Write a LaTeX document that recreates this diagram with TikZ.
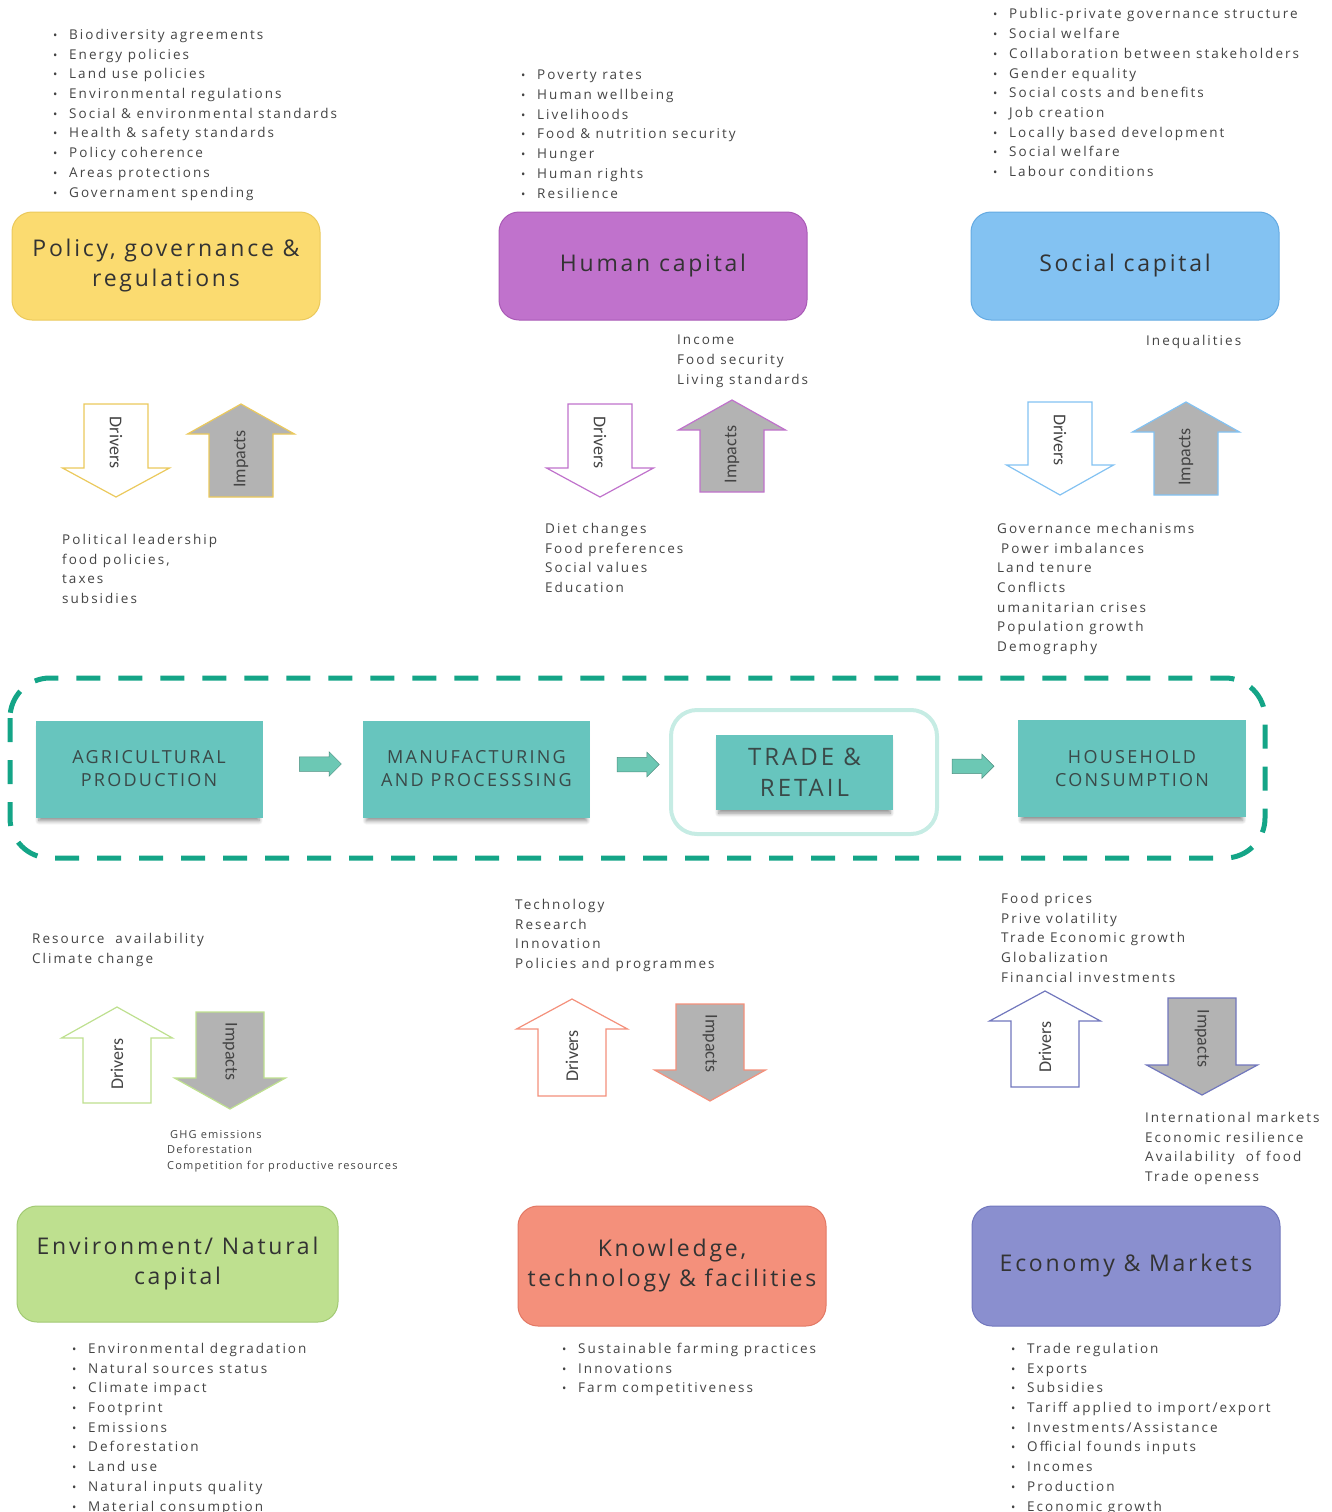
\documentclass[tikz,border=0pt]{standalone}
\usepackage{fontspec}
\setmainfont{Open Sans}[LetterSpace=15]
\newfontfamily\titlefont{Open Sans}[LetterSpace=12]
\newfontfamily\stagefont{Open Sans}[LetterSpace=12.5]
\newfontfamily\notefont{Open Sans}[LetterSpace=11]
\newfontfamily\arrowfont{Carlito}
\usetikzlibrary{positioning,calc,shapes.arrows,shadows.blur}

\definecolor{txtgray}{HTML}{444444}
\definecolor{titlegray}{HTML}{333333}
\definecolor{polyfill}{HTML}{FBDB70}
\definecolor{polydraw}{HTML}{EBC95C}
\definecolor{humfill}{HTML}{C072CC}
\definecolor{humdraw}{HTML}{A95AB6}
\definecolor{socfill}{HTML}{83C2F2}
\definecolor{socdraw}{HTML}{64AAE2}
\definecolor{envfill}{HTML}{BEE08F}
\definecolor{envdraw}{HTML}{A2C974}
\definecolor{knofill}{HTML}{F4907B}
\definecolor{knodraw}{HTML}{E27864}
\definecolor{ecofill}{HTML}{8A8FCF}
\definecolor{ecodraw}{HTML}{7177BD}
\definecolor{impgray}{HTML}{B3B3B3}
\definecolor{stagefill}{HTML}{67C5BE}
\definecolor{stagetxt}{HTML}{3A4948}
\definecolor{chaindash}{HTML}{14A587}
\definecolor{tradering}{HTML}{C6ECE4}
\definecolor{flowfill}{HTML}{6CC8B4}
\definecolor{flowdraw}{HTML}{4E8F80}

\newcommand{\bitem}{\makebox[16pt][l]{\scalebox{0.85}{\textbullet}}}
% shaft and head half widths of the big arrows
\def\sw{32}
\def\hw{53.5}
% #1 label name, #2 style, #3 centre x, #4 shaft end, #5 head base, #6 tip, #7 text, #8 angle
\newcommand{\bigarrow}[8]{%
  \draw[#2] (#3-\sw,#4) -- (#3-\sw,#5) -- (#3-\hw,#5) -- (#3,#6) -- (#3+\hw,#5)
    -- (#3+\sw,#5) -- (#3+\sw,#4) -- cycle;
  \node[arrowlbl, rotate=#8] (#1) at (#3,{(#4+#5)/2+0.07*(#6-#4)}) {#7};
}

\begin{document}
\begin{tikzpicture}[x=1pt,y=-1pt,
  capbox/.style={draw, rounded corners=20, line width=1pt, minimum width=308,
    minimum height=108, align=center, font=\titlefont\fontsize{23}{30}\selectfont, text=titlegray},
  listtxt/.style={anchor=north west, inner sep=0, align=left,
    font=\fontsize{13.5}{19.7}\selectfont, text=txtgray},
  stagebox/.style={fill=stagefill, minimum width=227, minimum height=97, align=center,
    font=\stagefont\fontsize{18}{23}\selectfont, text=stagetxt,
    blur shadow={shadow xshift=0pt, shadow yshift=-5pt, shadow scale=0.97,
      shadow blur steps=8, shadow blur radius=4pt, shadow opacity=45}},
  flowarrow/.style={single arrow, draw=flowdraw, fill=flowfill, line width=0.5pt,
    minimum height=42, inner xsep=0, inner ysep=7, single arrow head extend=5},
  drv/.style={draw=#1, fill=white, line width=1.2pt},
  imp/.style={draw=#1, fill=impgray, line width=1.2pt},
  arrowlbl/.style={font=\arrowfont\fontsize{18}{18}\selectfont, text=txtgray}]
\useasboundingbox (0,0) rectangle (1332,1512);

% capitals, top row
\node[capbox, fill=polyfill, draw=polydraw] (policy) at (166,266) {Policy, governance \&\\regulations};
\node[capbox, fill=humfill, draw=humdraw] (human) at (653,266) {Human capital};
\node[capbox, fill=socfill, draw=socdraw] (social) at (1125,266) {Social capital};

\node[listtxt] (policylist) at (53,29) {\bitem Biodiversity agreements\\ \bitem Energy policies\\
  \bitem Land use policies\\ \bitem Environmental regulations\\ \bitem Social \& environmental standards\\
  \bitem Health \& safety standards\\ \bitem Policy coherence\\ \bitem Areas protections\\
  \bitem Governament spending};
\node[listtxt] (humanlist) at (521,70) {\bitem Poverty rates\\ \bitem Human wellbeing\\
  \bitem Livelihoods\\ \bitem Food \& nutrition security\\ \bitem Hunger\\ \bitem Human rights\\
  \bitem Resilience};
\node[listtxt] (sociallist) at (993,8.5) {\bitem Public-private governance structure\\
  \bitem Social welfare\\ \bitem Collaboration between stakeholders\\ \bitem Gender equality\\
  \bitem Social costs and benefits\\ \bitem Job creation\\ \bitem Locally based development\\
  \bitem Social welfare\\ \bitem Labour conditions};

% drivers and impacts, top row
\bigarrow{policydrv}{drv=polydraw}{116}{404}{468}{497}{Drivers}{-90}
\bigarrow{policyimp}{imp=polydraw}{241}{497}{434}{404}{Impacts}{90}
\bigarrow{humandrv}{drv=humfill}{600}{404}{468}{497}{Drivers}{-90}
\bigarrow{humanimp}{imp=humfill}{732}{492}{430}{400}{Impacts}{90}
\bigarrow{socialdrv}{drv=socfill}{1060}{402}{465}{495}{Drivers}{-90}
\bigarrow{socialimp}{imp=socfill}{1186}{495}{432}{402}{Impacts}{90}

\node[listtxt] (humanout) at (677,335) {Income\\Food security\\Living standards};
\node[listtxt] (socialout) at (1146,335) {Inequalities};
\node[listtxt] (policyin) at (62,534) {Political leadership\\food policies,\\taxes\\subsidies};
\node[listtxt] (humanin) at (545,523) {Diet changes\\Food preferences\\Social values\\Education};
\node[listtxt] (socialin) at (997,523) {Governance mechanisms\\\hspace{4pt}Power imbalances\\
  Land tenure\\Conflicts\\umanitarian crises\\Population growth\\Demography};

% food chain
\draw[chaindash, line width=5pt, dash pattern=on 24pt off 18pt, rounded corners=40]
  (10,678) rectangle (1265,858);
\node[draw=tradering, line width=4pt, rounded corners=26, minimum width=266,
  minimum height=124] (tradering) at (804,772) {};
\node[stagebox] (agri) at (149,769) {AGRICULTURAL\\PRODUCTION};
\node[stagebox] (manu) at (476.5,769) {MANUFACTURING\\AND PROCESSSING};
\node[stagebox, minimum width=177, minimum height=75, font=\stagefont\fontsize{24}{31}\selectfont]
  (trade) at (804.5,772) {TRADE \&\\RETAIL};
\node[stagebox, minimum width=228] (house) at (1132,768.5) {HOUSEHOLD\\CONSUMPTION};
\node[flowarrow] (flow1) at ($(agri.east)!0.5!(manu.west)+(4,-5)$) {};
\node[flowarrow] (flow2) at ($(manu.east)!0.5!(tradering.west)+(5,-6)$) {};
\node[flowarrow] (flow3) at ($(tradering.east)!0.5!(house.west)+(-9,-4)$) {};

% drivers and impacts, bottom row
\def\sw{34}
\def\hw{55.5}
\node[listtxt] (envin) at (32,933) {Resource\ \ availability\\Climate change};
\node[listtxt] (knoin) at (515,899) {Technology\\Research\\Innovation\\Policies and programmes};
\node[listtxt] (ecoin) at (1001,893) {Food prices\\Prive volatility\\Trade Economic growth\\
  Globalization\\Financial investments};
\bigarrow{envdrv}{drv=envfill}{117}{1103}{1038}{1007}{Drivers}{90}
\bigarrow{envimp}{imp=envfill}{230}{1012}{1078}{1109}{Impacts}{-90}
\bigarrow{knodrv}{drv=knofill}{572}{1096}{1029}{999}{Drivers}{90}
\bigarrow{knoimp}{imp=knofill}{710}{1004}{1070}{1101}{Impacts}{-90}
\bigarrow{ecodrv}{drv=ecodraw}{1045}{1087}{1021}{991}{Drivers}{90}
\bigarrow{ecoimp}{imp=ecodraw}{1202}{998}{1065}{1095}{Impacts}{-90}
\node[listtxt, font=\notefont\fontsize{11}{15.5}\selectfont] (envout) at (167,1130)
  {\hspace{3pt}GHG emissions\\Deforestation\\Competition for productive resources};
\node[listtxt] (ecoout) at (1145,1112) {International markets\\Economic resilience\\
  Availability\ \ of food\\Trade openess};

% capitals, bottom row
\node[capbox, fill=envfill, draw=envdraw, minimum width=321, minimum height=116]
  (env) at (177.5,1264) {Environment/ Natural\\capital};
\node[capbox, fill=knofill, draw=knodraw, minimum height=120]
  (know) at (672,1266) {Knowledge,\\technology \& facilities};
\node[capbox, fill=ecofill, draw=ecodraw, minimum height=120]
  (econ) at (1126,1266) {Economy \& Markets};

\node[listtxt] (envlist) at (72,1343) {\bitem Environmental degradation\\
  \bitem Natural sources status\\ \bitem Climate impact\\ \bitem Footprint\\ \bitem Emissions\\
  \bitem Deforestation\\ \bitem Land use\\ \bitem Natural inputs quality\\
  \bitem Material consumption};
\node[listtxt] (knolist) at (562,1343) {\bitem Sustainable farming practices\\
  \bitem Innovations\\ \bitem Farm competitiveness};
\node[listtxt] (econlist) at (1011,1343) {\bitem Trade regulation\\ \bitem Exports\\
  \bitem Subsidies\\ \bitem Tariff applied to import/export\\ \bitem Investments/Assistance\\
  \bitem Official founds inputs\\ \bitem Incomes\\ \bitem Production\\ \bitem Economic growth};
\end{tikzpicture}
\end{document}
